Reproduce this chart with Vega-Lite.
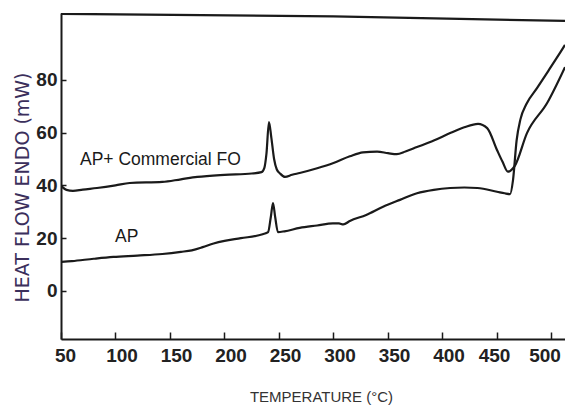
{
  "$schema": "https://vega.github.io/schema/vega-lite/v6.json",
  "width": 504,
  "height": 326,
  "padding": {"left": 61, "top": 13, "right": 0, "bottom": 68},
  "autosize": {"type": "none"},
  "background": "white",
  "config": {"view": {"stroke": null}},
  "datasets": {
    "curves": [
      {"series": "AP+FO", "T": 50.5, "v": 39.6},
      {"series": "AP+FO", "T": 55, "v": 38.3},
      {"series": "AP+FO", "T": 61, "v": 37.9},
      {"series": "AP+FO", "T": 70, "v": 38.4},
      {"series": "AP+FO", "T": 83, "v": 39.0},
      {"series": "AP+FO", "T": 100, "v": 40.0},
      {"series": "AP+FO", "T": 113, "v": 40.9},
      {"series": "AP+FO", "T": 143, "v": 41.3},
      {"series": "AP+FO", "T": 160, "v": 42.3},
      {"series": "AP+FO", "T": 175, "v": 43.2},
      {"series": "AP+FO", "T": 200, "v": 44.0},
      {"series": "AP+FO", "T": 225, "v": 44.5},
      {"series": "AP+FO", "T": 234, "v": 45.0},
      {"series": "AP+FO", "T": 236.5, "v": 46.5},
      {"series": "AP+FO", "T": 238.5, "v": 52},
      {"series": "AP+FO", "T": 240.8, "v": 64},
      {"series": "AP+FO", "T": 243, "v": 58},
      {"series": "AP+FO", "T": 245.5, "v": 50},
      {"series": "AP+FO", "T": 248, "v": 46},
      {"series": "AP+FO", "T": 251, "v": 44.5},
      {"series": "AP+FO", "T": 255.5, "v": 43.2},
      {"series": "AP+FO", "T": 262, "v": 44},
      {"series": "AP+FO", "T": 269, "v": 44.7},
      {"series": "AP+FO", "T": 285, "v": 46.5},
      {"series": "AP+FO", "T": 300, "v": 48.5},
      {"series": "AP+FO", "T": 315, "v": 51},
      {"series": "AP+FO", "T": 327, "v": 52.5},
      {"series": "AP+FO", "T": 340, "v": 52.8},
      {"series": "AP+FO", "T": 350, "v": 52.2},
      {"series": "AP+FO", "T": 358, "v": 51.8},
      {"series": "AP+FO", "T": 366, "v": 52.8},
      {"series": "AP+FO", "T": 376.6, "v": 54.5},
      {"series": "AP+FO", "T": 392, "v": 57},
      {"series": "AP+FO", "T": 407, "v": 59.8},
      {"series": "AP+FO", "T": 420, "v": 62},
      {"series": "AP+FO", "T": 432.6, "v": 63.3},
      {"series": "AP+FO", "T": 441, "v": 61.7},
      {"series": "AP+FO", "T": 450, "v": 53.4},
      {"series": "AP+FO", "T": 455, "v": 49},
      {"series": "AP+FO", "T": 460, "v": 45.2},
      {"series": "AP+FO", "T": 466.5, "v": 47.5},
      {"series": "AP+FO", "T": 477.5, "v": 59.8},
      {"series": "AP+FO", "T": 496, "v": 71.2},
      {"series": "AP+FO", "T": 512.4, "v": 84.8},
      {"series": "AP", "T": 50.5, "v": 11.0},
      {"series": "AP", "T": 60, "v": 11.3},
      {"series": "AP", "T": 80, "v": 12.2},
      {"series": "AP", "T": 98, "v": 12.9},
      {"series": "AP", "T": 120, "v": 13.4},
      {"series": "AP", "T": 143, "v": 14.0},
      {"series": "AP", "T": 160, "v": 14.8},
      {"series": "AP", "T": 170, "v": 15.4},
      {"series": "AP", "T": 180, "v": 16.6},
      {"series": "AP", "T": 190, "v": 18.0},
      {"series": "AP", "T": 200, "v": 19.0},
      {"series": "AP", "T": 215, "v": 20.0},
      {"series": "AP", "T": 235, "v": 21.5},
      {"series": "AP", "T": 240, "v": 22.3},
      {"series": "AP", "T": 242.5, "v": 28},
      {"series": "AP", "T": 244.5, "v": 33.3},
      {"series": "AP", "T": 246.5, "v": 28},
      {"series": "AP", "T": 249, "v": 22.3},
      {"series": "AP", "T": 255, "v": 22.6},
      {"series": "AP", "T": 269, "v": 23.9},
      {"series": "AP", "T": 285, "v": 24.8},
      {"series": "AP", "T": 299.5, "v": 25.6},
      {"series": "AP", "T": 305, "v": 25.6},
      {"series": "AP", "T": 309, "v": 25.2},
      {"series": "AP", "T": 315, "v": 26.5},
      {"series": "AP", "T": 330, "v": 28.8},
      {"series": "AP", "T": 345, "v": 31.8},
      {"series": "AP", "T": 361, "v": 34.5},
      {"series": "AP", "T": 376.6, "v": 37.0},
      {"series": "AP", "T": 392, "v": 38.3},
      {"series": "AP", "T": 407, "v": 39.0},
      {"series": "AP", "T": 420, "v": 39.2},
      {"series": "AP", "T": 432, "v": 39.0},
      {"series": "AP", "T": 450, "v": 37.6},
      {"series": "AP", "T": 457, "v": 37.0},
      {"series": "AP", "T": 462, "v": 36.7},
      {"series": "AP", "T": 464.7, "v": 42},
      {"series": "AP", "T": 468, "v": 57},
      {"series": "AP", "T": 471.5, "v": 65},
      {"series": "AP", "T": 477, "v": 70.8},
      {"series": "AP", "T": 486.7, "v": 76.8},
      {"series": "AP", "T": 497, "v": 83.3},
      {"series": "AP", "T": 507.8, "v": 90.2},
      {"series": "AP", "T": 512.4, "v": 93.2},
      {"series": "top", "T": 50, "v": 105.0},
      {"series": "top", "T": 300, "v": 104.0},
      {"series": "top", "T": 512.4, "v": 102.3}
    ],
    "labels": [
      {"T": 67.4, "v": 49.8, "label": "AP+ Commercial FO"},
      {"T": 99.5, "v": 20.6, "label": "AP"}
    ]
  },
  "layer": [
    {
      "data": {"name": "curves"},
      "mark": {"type": "line", "interpolate": "monotone", "strokeWidth": 2.2, "clip": true},
      "encoding": {
        "x": {
          "field": "T", "type": "quantitative",
          "scale": {"domain": [50, 512.4], "nice": false, "zero": false},
          "axis": {
            "values": [50, 100, 150, 200, 250, 300, 350, 400, 450, 500],
            "grid": false,
            "labelFlush": false,
            "domainColor": "#1a1a1a", "domainWidth": 2,
            "tickColor": "#1a1a1a", "tickWidth": 1.5, "tickSize": -7,
            "labelPadding": 14,
            "labelOffset": {"expr": "datum.value == 500 ? -7 : (datum.value == 450 ? -3 : (datum.value == 50 ? 4 : 6))"},
            "labelFont": "Liberation Sans", "labelFontSize": 19, "labelFontWeight": "bold",
            "labelColor": "#222222",
            "title": "TEMPERATURE (°C)",
            "titleFont": "Liberation Sans", "titleFontSize": 15, "titleFontWeight": "normal",
            "titleColor": "#333333",
            "titleX": 260, "titleY": 57, "titleBaseline": "middle"
          }
        },
        "y": {
          "field": "v", "type": "quantitative",
          "scale": {"domain": [-18.2, 105.3], "nice": false, "zero": false},
          "axis": {
            "values": [0, 20, 40, 60, 80],
            "grid": false,
            "labelFlush": false,
            "domainColor": "#1a1a1a", "domainWidth": 2,
            "tickColor": "#1a1a1a", "tickWidth": 1.5, "tickSize": -5,
            "labelPadding": 9,
            "labelFont": "Liberation Sans", "labelFontSize": 19, "labelFontWeight": "bold",
            "labelColor": "#222222",
            "title": "HEAT FLOW ENDO (mW)",
            "titleFont": "DejaVu Sans", "titleFontSize": 19, "titleFontWeight": "normal",
            "titleColor": "#3b2f5c",
            "titleX": -39, "titleY": 174, "titleBaseline": "middle", "titleAngle": -90
          }
        },
        "detail": {"field": "series"},
        "color": {"value": "#1a1a1a"}
      }
    },
    {
      "data": {"name": "labels"},
      "mark": {"type": "text", "align": "left", "baseline": "middle", "font": "Liberation Sans", "fontSize": 17.5, "color": "#1a1a1a"},
      "encoding": {
        "x": {"field": "T", "type": "quantitative"},
        "y": {"field": "v", "type": "quantitative"},
        "text": {"field": "label"}
      }
    }
  ]
}
